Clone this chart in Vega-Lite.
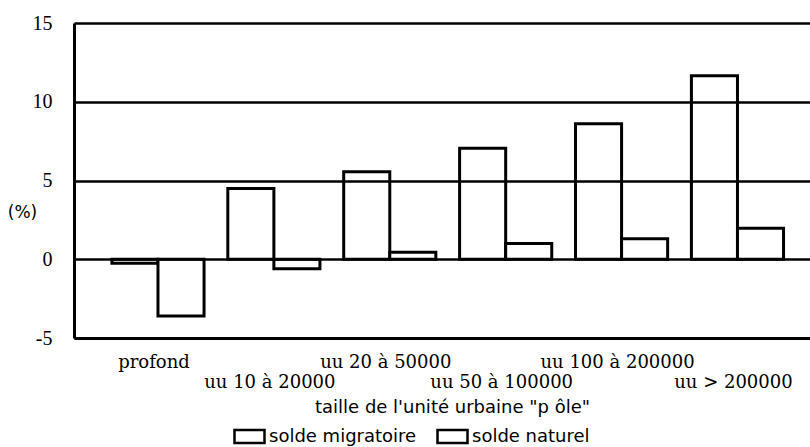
{
  "$schema": "https://vega.github.io/schema/vega-lite/v6.json",
  "autosize": "none",
  "width": 737,
  "height": 315,
  "padding": {"left": 74, "top": 23, "right": 0, "bottom": 109},
  "background": "white",
  "config": {"view": {"stroke": null}},
  "data": {
    "values": [
      {"cat": "profond", "serie": "solde migratoire", "v": -0.25},
      {"cat": "profond", "serie": "solde naturel", "v": -3.6},
      {"cat": "uu 10 à 20000", "serie": "solde migratoire", "v": 4.5},
      {"cat": "uu 10 à 20000", "serie": "solde naturel", "v": -0.6},
      {"cat": "uu 20 à 50000", "serie": "solde migratoire", "v": 5.55},
      {"cat": "uu 20 à 50000", "serie": "solde naturel", "v": 0.45},
      {"cat": "uu 50 à 100000", "serie": "solde migratoire", "v": 7.05},
      {"cat": "uu 50 à 100000", "serie": "solde naturel", "v": 1.0},
      {"cat": "uu 100 à 200000", "serie": "solde migratoire", "v": 8.6},
      {"cat": "uu 100 à 200000", "serie": "solde naturel", "v": 1.3},
      {"cat": "uu > 200000", "serie": "solde migratoire", "v": 11.65},
      {"cat": "uu > 200000", "serie": "solde naturel", "v": 1.97}
    ]
  },
  "mark": {"type": "bar", "stroke": "black", "strokeWidth": 3},
  "encoding": {
    "x": {
      "field": "cat",
      "type": "nominal",
      "sort": null,
      "scale": {"paddingInner": 0.205, "paddingOuter": 0.282, "align": 0.58},
      "axis": {
        "title": "taille de l'unité urbaine \"p ôle\"",
        "titleFont": "DejaVu Sans",
        "titleFontSize": 18,
        "titleFontWeight": "normal",
        "titleColor": "black",
        "titleBaseline": "alphabetic",
        "titleAlign": "center",
        "titleY": 74,
        "titleX": 378,
        "labelAngle": 0,
        "labelFont": "DejaVu Serif",
        "labelFontSize": 18,
        "labelColor": "black",
        "labelBaseline": "top",
        "labelLineHeight": 20,
        "labelPadding": 15,
        "labelOffset": -4,
        "labelOverlap": false,
        "labelExpr": "indexof(['uu 10 à 20000','uu 50 à 100000','uu > 200000'], datum.value) >= 0 ? ['', datum.label] : datum.label",
        "ticks": false,
        "domain": true,
        "domainColor": "black",
        "domainWidth": 3
      }
    },
    "xOffset": {
      "field": "serie",
      "type": "nominal",
      "sort": ["solde migratoire", "solde naturel"],
      "scale": {"paddingInner": 0, "paddingOuter": 0}
    },
    "y": {
      "field": "v",
      "type": "quantitative",
      "scale": {"domain": [-5, 15], "nice": false, "zero": false},
      "axis": {
        "values": [-5, 0, 5, 10, 15],
        "labelExpr": "datum.value < 0 ? '-' + abs(datum.value) : datum.label",
        "title": "(%)",
        "titleAngle": 0,
        "titleFont": "DejaVu Sans",
        "titleFontSize": 17,
        "titleFontWeight": "normal",
        "titleColor": "black",
        "titleAlign": "center",
        "titleBaseline": "middle",
        "titleX": -52,
        "titleY": 189,
        "labelFont": "Liberation Serif",
        "labelFontSize": 20,
        "labelColor": "black",
        "labelPadding": 22,
        "ticks": false,
        "grid": true,
        "gridColor": "black",
        "gridWidth": 2.5,
        "gridOpacity": 1,
        "domain": true,
        "domainColor": "black",
        "domainWidth": 3,
        "zindex": 1
      }
    },
    "fill": {
      "field": "serie",
      "type": "nominal",
      "sort": ["solde migratoire", "solde naturel"],
      "scale": {"range": ["white", "white"]},
      "legend": {
        "title": null,
        "orient": "none",
        "direction": "horizontal",
        "legendX": 159,
        "legendY": 397,
        "padding": 0,
        "symbolType": "M-1,-0.43H1V0.43H-1Z",
        "symbolSize": 900,
        "symbolStrokeColor": "black",
        "symbolStrokeWidth": 2.5,
        "symbolFillColor": "white",
        "symbolOpacity": 1,
        "labelFont": "DejaVu Sans",
        "labelFontSize": 18,
        "labelColor": "black",
        "labelOffset": 3,
        "columnPadding": 15
      }
    }
  }
}
